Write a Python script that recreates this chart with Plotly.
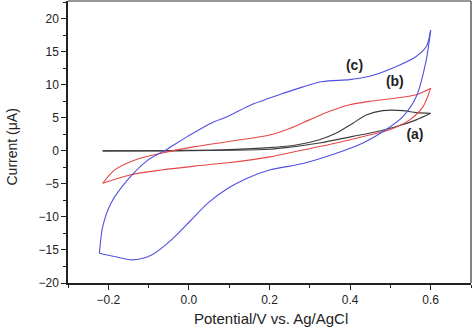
import plotly.graph_objects as go

# Curve (c) - blue
c_fwd_x = [-0.222, -0.185, -0.14, -0.094, -0.044, 0.005, 0.047, 0.096, 0.146, 0.2, 0.283, 0.366, 0.432, 0.481, 0.531, 0.564, 0.589, 0.6]
c_fwd_y = [-15.5, -16.0, -16.5, -15.8, -13.5, -10.5, -7.9, -5.7, -4.1, -2.9, -1.9, -0.35, 1.2, 2.9, 5.2, 8.2, 13.8, 18.3]
c_rev_x = [0.6, 0.589, 0.564, 0.515, 0.448, 0.399, 0.332, 0.283, 0.233, 0.2, 0.155, 0.096, 0.055, -0.003, -0.053, -0.102, -0.152, -0.193, -0.214, -0.222]
c_rev_y = [18.3, 15.8, 14.3, 12.8, 11.3, 10.8, 10.5, 9.7, 8.7, 8.0, 7.0, 5.2, 4.2, 2.2, 0.3, -1.4, -4.4, -7.9, -11.5, -15.5]

# Curve (b) - red
b_fwd_x = [-0.214, -0.144, -0.069, 0.014, 0.096, 0.2, 0.283, 0.366, 0.448, 0.498, 0.548, 0.581, 0.6]
b_fwd_y = [-4.9, -3.6, -2.9, -2.3, -1.8, -0.9, 0.15, 1.2, 2.4, 3.2, 4.7, 6.7, 9.5]
b_rev_x = [0.6, 0.564, 0.515, 0.448, 0.399, 0.349, 0.299, 0.25, 0.2, 0.096, 0.014, -0.069, -0.135, -0.185, -0.214]
b_rev_y = [9.5, 8.5, 8.0, 7.5, 7.0, 6.0, 4.7, 3.4, 2.4, 1.4, 0.65, -0.35, -1.4, -2.9, -4.9]

# Curve (a) - black
a_fwd_x = [-0.214, -0.1, 0.0, 0.1, 0.2, 0.241, 0.324, 0.407, 0.465, 0.515, 0.564, 0.6]
a_fwd_y = [0.0, 0.0, 0.02, 0.1, 0.25, 0.5, 1.2, 2.2, 2.9, 3.7, 4.7, 5.7]
a_rev_x = [0.6, 0.564, 0.531, 0.481, 0.44, 0.407, 0.366, 0.324, 0.266, 0.2, 0.1, 0.0, -0.1, -0.214]
a_rev_y = [5.7, 5.8, 6.1, 6.1, 5.45, 4.2, 2.7, 1.7, 0.9, 0.5, 0.2, 0.08, 0.03, 0.0]

labels = ["(c)", "(b)", "(a)"]
label_x = [0.411, 0.511, 0.561]
label_y = [12.8, 10.3, 2.3]

x_title = "Potential/V vs. Ag/AgCl"
y_title = "Current (μA)"

BLUE = "rgb(80,80,225)"
RED = "rgb(230,70,70)"
BLACK = "rgb(60,60,60)"
FONT = "Liberation Sans, Arial, sans-serif"

fig = go.Figure()
for xs, ys, col in [
    (a_fwd_x, a_fwd_y, BLACK), (a_rev_x, a_rev_y, BLACK),
    (b_fwd_x, b_fwd_y, RED), (b_rev_x, b_rev_y, RED),
    (c_fwd_x, c_fwd_y, BLUE), (c_rev_x, c_rev_y, BLUE),
]:
    fig.add_trace(go.Scatter(x=xs, y=ys, mode="lines",
                             line=dict(color=col, width=1.1, shape="spline", smoothing=0.8),
                             showlegend=False, hoverinfo="skip"))

fig.add_trace(go.Scatter(x=label_x, y=label_y, mode="text",
                         text=["<b>%s</b>" % t for t in labels],
                         textfont=dict(family=FONT, size=14, color="#222"),
                         showlegend=False, hoverinfo="skip"))

fig.update_layout(
    width=474, height=330,
    margin=dict(l=68, r=3, t=1, b=47),
    paper_bgcolor="white", plot_bgcolor="white",
    font=dict(family=FONT, size=12, color="#222"),
    xaxis=dict(range=[-0.3, 0.7], tick0=0, dtick=0.2, tickformat=".1f",
               showgrid=False, zeroline=False, showline=True, linecolor="#222", linewidth=1.5,
               ticks="outside", ticklen=5, tickwidth=1.2, tickcolor="#222",
               minor=dict(dtick=0.1, ticks="outside", ticklen=3, tickwidth=1.2, tickcolor="#222"),
               automargin=False),
    yaxis=dict(range=[-20, 22.7], tick0=0, dtick=5,
               showgrid=False, zeroline=False, showline=True, linecolor="#222", linewidth=1.5,
               ticks="outside", ticklen=5, tickwidth=1.2, tickcolor="#222",
               minor=dict(dtick=2.5, ticks="outside", ticklen=3, tickwidth=1.2, tickcolor="#222"),
               automargin=False),
    annotations=[
        dict(text=x_title, xref="paper", yref="paper", x=0.504, y=-0.126,
             xanchor="center", yanchor="middle", showarrow=False, font=dict(size=15)),
        dict(text=y_title, xref="paper", yref="paper", x=-0.139, y=0.484, textangle=-90,
             xanchor="center", yanchor="middle", showarrow=False, font=dict(size=14)),
    ],
    shapes=[
        dict(type="line", xref="paper", yref="paper", x0=0, x1=1, y0=1, y1=1,
             line=dict(color="rgb(150,150,150)", width=2)),
        dict(type="line", xref="paper", yref="paper", x0=1, x1=1, y0=0, y1=1,
             line=dict(color="rgb(90,90,90)", width=1.5)),
    ],
)

fig.write_html("out.html")
